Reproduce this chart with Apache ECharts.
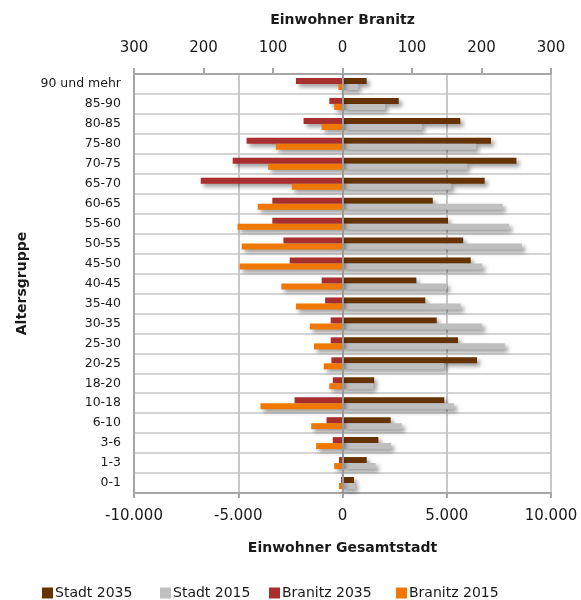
<!DOCTYPE html>
<html>
<head>
<meta charset="utf-8">
<script src="https://cdn.jsdelivr.net/npm/echarts@6/dist/echarts.min.js"></script>
<style>html,body{margin:0;padding:0;background:#fff}#chart{width:581px;height:600px}</style>
</head>
<body>
<div id="chart"></div>
<script>
// Age groups, bottom to top
var categories = ['0-1','1-3','3-6','6-10','10-18','18-20','20-25','25-30','30-35','35-40','40-45','45-50','50-55','55-60','60-65','65-70','70-75','75-80','80-85','85-90','90 und mehr'];
// Einwohner Gesamtstadt
var stadt2035 = [550,1160,1720,2310,4880,1520,6450,5540,4520,3970,3540,6150,5790,5060,4330,6820,8340,7120,5650,2700,1160];
var stadt2015 = [600,1590,2330,2850,5350,1480,4870,7780,6700,5670,5010,6700,8610,7990,7680,5200,5970,6400,3810,2040,740];
// Einwohner Branitz
var branitz2035 = [2,5,14,23,69,14,16,17,17,25,30,76,85,101,101,204,158,138,56,19,67];
var branitz2015 = [5,12,38,45,118,19,27,41,47,67,88,148,145,151,122,73,107,96,30,12,6];
// Tick values
var stadtTicks = {min:-10000, max:10000, interval:5000};
var branitzTicks = {min:-300, max:300, interval:100};
var seriesNames = ['Stadt 2035','Stadt 2015','Branitz 2035','Branitz 2015'];

function fmtThousands(v){
  var s = String(Math.abs(v)).replace(/\B(?=(\d{3})+(?!\d))/g, '.');
  return (v < 0 ? '-' : '') + s;
}
var FONT = 'DejaVu Sans';
var TXT = '#1a1a1a';
var shadow = {shadowColor:'rgba(0,0,0,0.4)', shadowBlur:4, shadowOffsetX:3, shadowOffsetY:3};
function bar(name, data, color, xi, yi, extra){
  var s = {
    name:name, type:'bar', xAxisIndex:xi, yAxisIndex:yi, data:data,
    barWidth:6, barGap:'0%',
    itemStyle:Object.assign({color:color}, shadow),
    emphasis:{disabled:true}, animation:false
  };
  return Object.assign(s, extra||{});
}
var legendLefts = [37, 155, 264, 391];
var legends = seriesNames.map(function(n, i){
  return {
    left:legendLefts[i], top:581, itemWidth:11, itemHeight:11, itemGap:0, icon:'rect',
    data:[n], selectedMode:false,
    textStyle:{fontSize:14, color:TXT, fontFamily:FONT, padding:[0,0,0,-3]},
    itemStyle:{shadowBlur:0, shadowOffsetX:0, shadowOffsetY:0, shadowColor:'transparent'}
  };
});
var chart = echarts.init(document.getElementById('chart'), null, {renderer:'canvas'});
chart.setOption({
  animation:false,
  textStyle:{fontFamily:FONT, color:TXT},
  grid:{left:134, right:30, top:74, bottom:107, containLabel:false},
  legend:legends,
  xAxis:[
    {type:'value', position:'bottom', min:stadtTicks.min, max:stadtTicks.max, interval:stadtTicks.interval,
     axisLine:{show:true, onZero:false, lineStyle:{color:'#a6a6a6', width:2}},
     axisTick:{show:true, length:5, lineStyle:{color:'#a6a6a6', width:2}},
     axisLabel:{fontSize:15, color:TXT, margin:16, formatter:fmtThousands},
     splitLine:{show:true, lineStyle:{color:'#c8c8c8', width:2}},
     name:'Einwohner Gesamtstadt', nameLocation:'middle', nameGap:48,
     nameTextStyle:{fontSize:14, fontWeight:'bold', color:TXT}},
    {type:'value', position:'top', min:branitzTicks.min, max:branitzTicks.max, interval:branitzTicks.interval,
     axisLine:{show:true, onZero:false, lineStyle:{color:'#a6a6a6', width:2}},
     axisTick:{show:true, length:6, lineStyle:{color:'#a6a6a6', width:2}},
     axisLabel:{fontSize:15, color:TXT, margin:18, formatter:function(v){return String(Math.abs(v));}},
     splitLine:{show:false},
     name:'Einwohner Branitz', nameLocation:'middle', nameGap:47,
     nameTextStyle:{fontSize:14, fontWeight:'bold', color:TXT}}
  ],
  yAxis:[
    {type:'category', data:categories,
     axisLine:{show:true, onZero:false, lineStyle:{color:'#a6a6a6', width:2}},
     axisTick:{show:false},
     axisLabel:{fontSize:12.5, color:TXT, margin:13},
     splitLine:{show:true, lineStyle:{color:'#d4d4d4', width:2}},
     name:'Altersgruppe', nameLocation:'middle', nameGap:104, nameRotate:90,
     nameTextStyle:{fontSize:14, fontWeight:'bold', color:TXT}},
    {type:'category', data:categories, show:false}
  ],
  series:[
    bar(seriesNames[0], stadt2035, '#663300', 0, 0, {
      markLine:{silent:true, symbol:'none', animation:false, label:{show:false},
        lineStyle:{color:'#9a9a9a', width:2, type:'solid', shadowBlur:0, shadowOffsetX:0, shadowOffsetY:0},
        data:[{xAxis:0}]}
    }),
    bar(seriesNames[1], stadt2015, '#bfbfbf', 0, 0),
    bar(seriesNames[2], branitz2035.map(function(v){return -v;}), '#a82f2e', 1, 1),
    bar(seriesNames[3], branitz2015.map(function(v){return -v;}), '#f07800', 1, 1)
  ]
});
</script>
</body>
</html>
